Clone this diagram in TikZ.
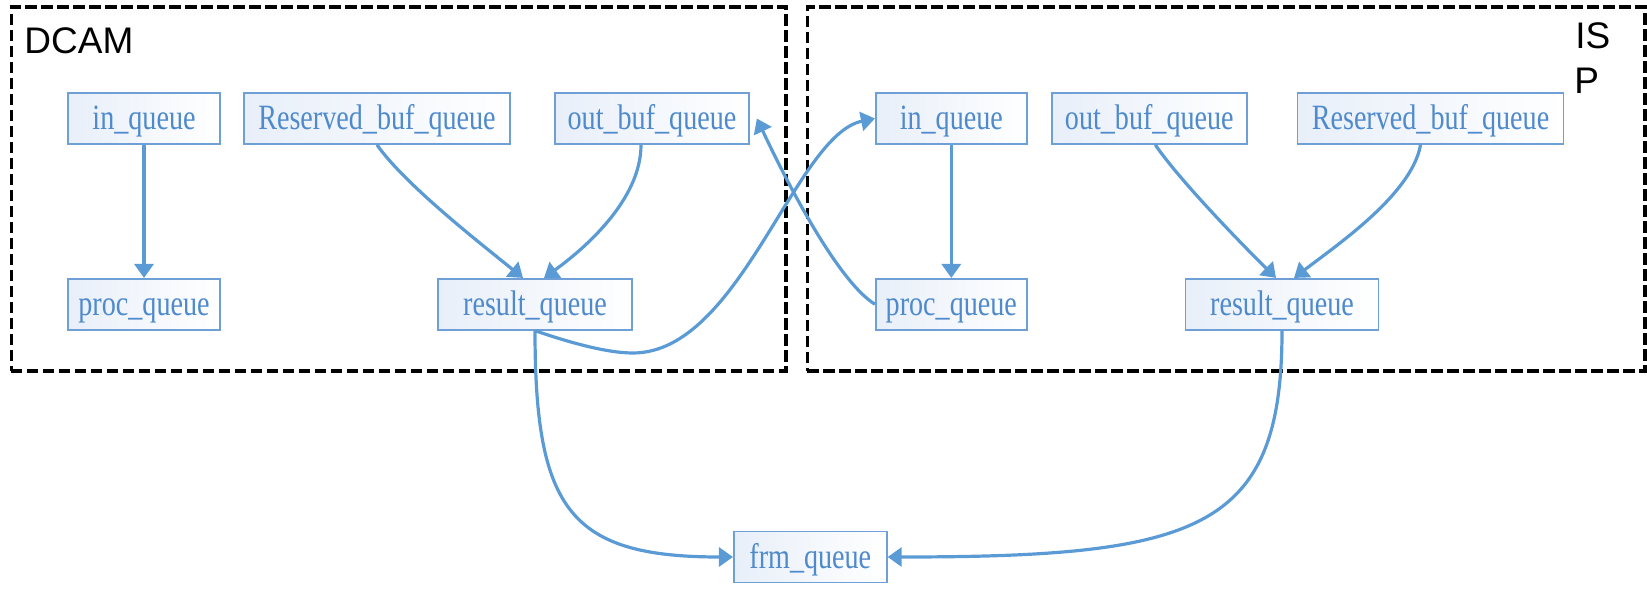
\documentclass[tikz,border=0pt]{standalone}
\usepackage{fontspec}
\setmainfont{Liberation Sans}
\newfontfamily\qfont[FakeStretch=0.79]{Liberation Serif}
\usetikzlibrary{arrows.meta}
\definecolor{lineblue}{RGB}{91,155,213}
\definecolor{boxblue}{RGB}{110,160,215}
\definecolor{txtblue}{RGB}{78,138,204}
\definecolor{fillblue}{RGB}{232,239,249}
\tikzset{
 qbox/.style={draw=boxblue, line width=0.85pt, left color=fillblue, right color=white, text=txtblue,
   font=\qfont\fontsize{17.8pt}{20pt}\selectfont, minimum height=25.5pt, inner sep=0pt,
   text height=18.5pt, text depth=7pt},
 conn/.style={draw=lineblue, line width=1.6pt, -{Triangle[length=7pt,width=9.5pt]}},
 dashbox/.style={draw=black, line width=1.65pt, dash pattern=on 5.6pt off 2.4pt, inner sep=0pt, anchor=north west},
 grp/.style={font=\fontsize{18.5pt}{23.5pt}\selectfont, inner sep=0pt, anchor=base west}
}
\begin{document}
\begin{tikzpicture}[x=0.5pt,y=-0.5pt]
\useasboundingbox (0,0) rectangle (1647,598);
% group frames
\node[dashbox, minimum width=387.35pt, minimum height=182pt] (dcam) at (9.6,5.3) {};
\node[dashbox, minimum width=418.8pt, minimum height=182pt] (isp) at (805.7,5.3) {};
\node[grp] (dcaml) at (24,54) {DCAM};
\node[grp] (ispl1) at (1575,48.3) {IS};
\node[grp] (ispl2) at (1574,94) {P};
% DCAM nodes
\node[qbox, minimum width=76pt] (din) at (144,118.5) {in\_queue};
\node[qbox, minimum width=133pt] (dres) at (377,118.5) {Reserved\_buf\_queue};
\node[qbox, minimum width=97pt] (dout) at (652,118.5) {out\_buf\_queue};
\node[qbox, minimum width=76pt] (dproc) at (144,304.3) {proc\_queue};
\node[qbox, minimum width=97pt] (dresult) at (535,304.3) {result\_queue};
% ISP nodes
\node[qbox, minimum width=75.5pt] (iin) at (951.3,118.5) {in\_queue};
\node[qbox, minimum width=97.5pt] (iout) at (1149.3,118.5) {out\_buf\_queue};
\node[qbox, minimum width=133pt] (ires) at (1430.5,118.5) {Reserved\_buf\_queue};
\node[qbox, minimum width=75.5pt] (iproc) at (951.3,304.3) {proc\_queue};
\node[qbox, minimum width=96.5pt] (iresult) at (1282,304.3) {result\_queue};
% frm
\node[qbox, minimum width=76.5pt] (frm) at (810.3,557) {frm\_queue};
% connectors DCAM
\draw[conn] (din.south) -- (dproc.north);
\draw[conn] (dres.south) .. controls (405,185) and (485,247) .. ([xshift=-6pt]dresult.north);
\draw[conn] ([xshift=-5.5pt]dout.south) .. controls (641,200) and (584,249) .. ([xshift=4.5pt]dresult.north);
\coordinate (dlow) at (633,353);
\draw[conn] (dresult.south) .. controls (565,341) and (605,353) .. (dlow)
   .. controls (740,353) and (795,135) .. (iin.west);
\draw[conn] (iproc.west) .. controls (836,280) and (783,174) .. ([xshift=3.5pt]dout.east);
% connectors ISP
\draw[conn] (iin.south) -- (iproc.north);
\draw[conn] ([xshift=3pt]iout.south) .. controls (1180,181) and (1244.5,247) .. ([xshift=-3pt]iresult.north);
\draw[conn] ([xshift=-5pt]ires.south) .. controls (1412,194) and (1337,245) .. ([xshift=6pt]iresult.north);
% to frm
\draw[conn] (dresult.south) .. controls (535,510) and (570,557) .. (frm.west);
\draw[conn] (iresult.south) .. controls (1282,530) and (1200,557) .. (frm.east);
\end{tikzpicture}
\end{document}
